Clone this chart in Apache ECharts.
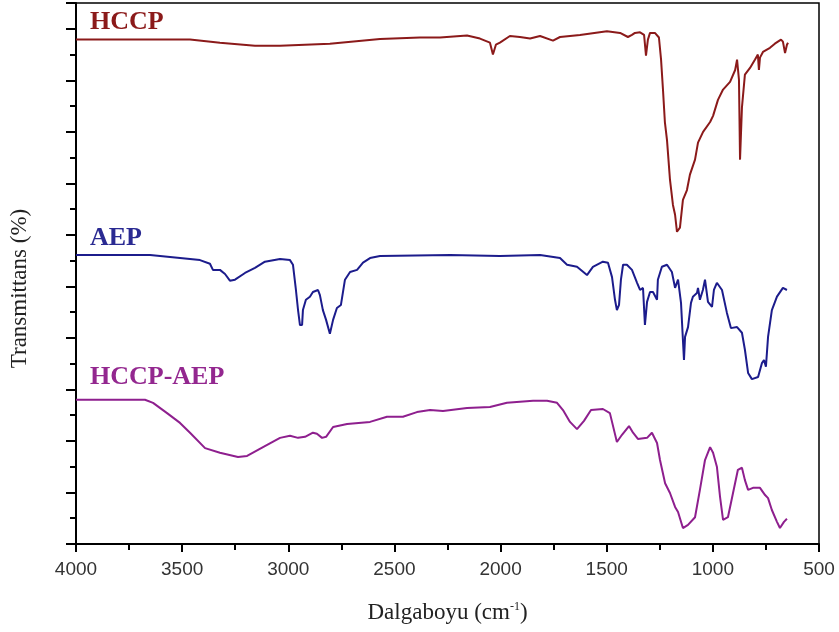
<!DOCTYPE html>
<html><head><meta charset="utf-8">
<script src="https://cdn.jsdelivr.net/npm/echarts@6/dist/echarts.min.js"></script>
<style>html,body{margin:0;padding:0;background:#fff}#c{width:839px;height:632px}</style>
</head><body><div id="c"></div>
<script>
const xTicks = [4000, 3500, 3000, 2500, 2000, 1500, 1000, 500];
const seriesNames = ['HCCP', 'AEP', 'HCCP-AEP'];

const hccpWn = [4000,3463,3322,3157,3039,2804,2568,2380,2285,2158,2097,2050,2036,2022,2003,1956,1909,1861,1814,1753,1720,1626,1499,1437,1400,1381,1367,1343,1324,1315,1306,1296,1273,1254,1244,1235,1226,1216,1202,1188,1178,1169,1155,1141,1122,1108,1084,1070,1046,1013,999,976,952,919,895,886,877,872,863,849,825,802,788,783,778,764,731,708,679,670,660,651,646];
const hccpT = [97.9,97.9,97.3,96.7,96.7,97.1,98.0,98.3,98.3,98.7,98.1,97.3,95.0,96.9,97.3,98.6,98.4,98.1,98.6,97.7,98.4,98.8,99.5,99.2,98.4,98.8,99.2,99.3,98.8,94.8,97.9,99.2,99.2,98.3,94.0,88.2,81.9,78.4,70.7,65.8,63.9,60.6,61.4,66.8,68.7,71.7,74.6,77.9,80.0,81.9,83.1,86.2,88.2,89.7,92.0,94.0,90.1,74.6,84.7,91.1,92.4,94.0,95.0,92.0,94.4,95.5,96.3,97.1,97.9,97.5,95.3,96.9,97.3];

const aepWn = [4000,3651,3510,3416,3369,3355,3322,3298,3275,3251,3204,3157,3110,3039,2992,2978,2964,2954,2945,2935,2931,2917,2898,2884,2860,2851,2837,2822,2804,2789,2771,2752,2733,2709,2676,2648,2615,2568,2238,2003,1814,1720,1687,1640,1593,1565,1518,1494,1475,1461,1452,1442,1433,1423,1405,1381,1357,1343,1329,1320,1310,1296,1282,1263,1259,1240,1216,1193,1178,1164,1150,1141,1136,1131,1117,1103,1094,1075,1070,1061,1047,1037,1023,1004,995,981,957,934,915,886,863,849,834,816,787,769,759,750,740,722,698,670,651];
const aepT = [56.1,56.1,55.5,55.1,54.4,53.2,53.2,52.4,51.1,51.3,52.6,53.6,54.8,55.3,55.1,54.2,49.3,45.4,42.5,42.5,45.4,47.4,48.0,48.9,49.3,48.3,45.4,43.5,40.8,43.5,45.8,46.4,51.3,52.8,53.2,54.6,55.5,55.9,56.1,55.9,56.1,55.5,54.2,53.8,52.2,53.8,54.8,54.6,51.8,47.4,45.4,46.4,51.3,54.2,54.2,53.2,50.7,49.3,49.7,42.5,47.0,48.9,48.9,47.4,51.3,53.8,54.2,52.8,49.7,51.3,46.8,39.6,35.7,40.2,42.1,46.8,48.0,48.7,49.7,47.4,49.3,51.3,47.0,46.0,49.3,50.7,49.3,44.9,41.9,42.1,41.0,37.7,33.2,32.0,32.4,35.1,35.7,34.4,40.2,45.4,48.0,49.7,49.3];

const mixWn = [4000,3675,3637,3571,3510,3463,3392,3322,3237,3194,3119,3039,2992,2954,2921,2884,2865,2841,2822,2789,2723,2615,2535,2460,2394,2332,2271,2158,2050,1970,1847,1781,1734,1706,1673,1640,1607,1574,1518,1485,1452,1428,1395,1376,1353,1310,1287,1263,1249,1225,1202,1178,1164,1141,1117,1084,1061,1037,1013,999,981,966,952,929,905,882,863,849,834,811,778,754,740,722,698,684,665,651];
const mixT = [28.0,28.0,27.4,25.4,23.5,21.6,18.6,17.7,16.9,17.1,18.8,20.6,21.0,20.6,20.8,21.6,21.4,20.6,20.8,22.7,23.3,23.7,24.7,24.7,25.6,26.0,25.8,26.4,26.6,27.4,27.8,27.8,27.4,26.0,23.7,22.3,23.9,26.0,26.2,25.4,19.8,21.2,22.9,21.6,20.4,20.6,21.6,19.6,16.3,11.8,9.9,7.2,6.2,3.1,3.7,5.2,10.5,16.3,18.8,17.7,15.0,9.1,4.7,5.2,9.9,14.4,14.8,12.4,10.5,10.9,10.9,9.5,8.9,6.6,4.3,3.1,4.3,4.9];

const colors = ['#8b1a1a', '#1c1c8c', '#8e1f8e'];
const zip = (a, b) => a.map((v, i) => [v, b[i]]);
const serif = 'Liberation Serif';

const chart = echarts.init(document.getElementById('c'));
chart.setOption({
  animation: false,
  backgroundColor: '#fff',
  grid: { left: 76, right: 20, top: 3, bottom: 88, show: true, borderColor: '#000', borderWidth: 1.5, backgroundColor: 'transparent' },
  xAxis: {
    type: 'value', inverse: true, min: 500, max: 4000, interval: 500,
    name: '{a|Dalgaboyu (cm}{s|-1}{a|)}', nameLocation: 'middle', nameGap: 57,
    nameTextStyle: { rich: { a: { fontFamily: serif, fontSize: 23, color: '#222' }, s: { fontFamily: serif, fontSize: 12, color: '#222', verticalAlign: 'top', padding: [0, 0, 12, 0] } } },
    axisLine: { lineStyle: { color: '#000', width: 2 } },
    axisTick: { length: 8, lineStyle: { color: '#000', width: 2 } },
    minorTick: { show: true, splitNumber: 2, length: 6, lineStyle: { color: '#000', width: 2 } },
    splitLine: { show: false },
    axisLabel: { fontFamily: 'Liberation Sans', fontSize: 19, color: '#333', margin: 16, formatter: v => xTicks.includes(v) ? String(v) : '' }
  },
  yAxis: {
    type: 'value', min: 0, max: 105, interval: 10,
    name: 'Transmittans (%)', nameLocation: 'middle', nameGap: 45,
    nameTextStyle: { fontFamily: serif, fontSize: 23, color: '#222', padding: [0, 30, 0, 0] },
    axisLine: { lineStyle: { color: '#000', width: 2 } },
    axisTick: { length: 10, lineStyle: { color: '#000', width: 2 } },
    minorTick: { show: true, splitNumber: 2, length: 6, lineStyle: { color: '#000', width: 2 } },
    splitLine: { show: false },
    axisLabel: { show: false }
  },
  series: [
    { name: seriesNames[0], type: 'line', data: zip(hccpWn, hccpT), showSymbol: false, lineStyle: { color: colors[0], width: 2 }, itemStyle: { color: colors[0] } },
    { name: seriesNames[1], type: 'line', data: zip(aepWn, aepT), showSymbol: false, lineStyle: { color: colors[1], width: 2 }, itemStyle: { color: colors[1] } },
    { name: seriesNames[2], type: 'line', data: zip(mixWn, mixT), showSymbol: false, lineStyle: { color: colors[2], width: 2 }, itemStyle: { color: colors[2] } }
  ],
  graphic: [
    { type: 'text', left: 90, top: 9, style: { text: seriesNames[0], fill: colors[0], font: 'bold 26px "Liberation Serif"' } },
    { type: 'text', left: 90, top: 225, style: { text: seriesNames[1], fill: '#2a2a92', font: 'bold 26px "Liberation Serif"' } },
    { type: 'text', left: 90, top: 364, style: { text: seriesNames[2], fill: '#93278f', font: 'bold 26px "Liberation Serif"' } }
  ]
});
</script></body></html>
